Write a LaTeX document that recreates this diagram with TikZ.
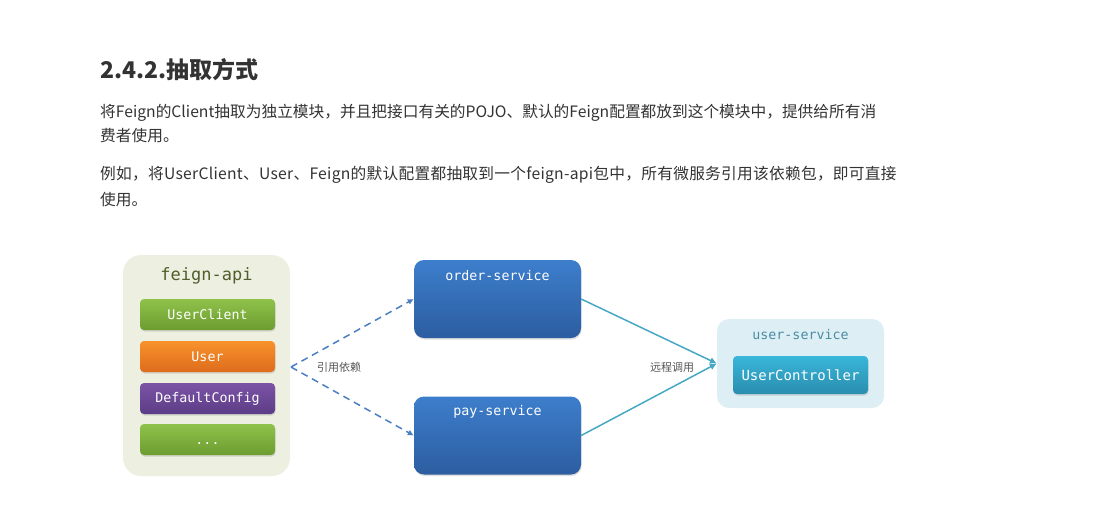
\documentclass[tikz,border=0pt]{standalone}
\usepackage{fontspec}
\newfontfamily\cjk{Noto Sans CJK SC}
\newfontfamily\cjkwide[LetterSpace=1.7]{Noto Sans CJK SC}
\newfontfamily\mono{DejaVu Sans Mono}
\usetikzlibrary{arrows.meta,shadows}
\definecolor{txt}{HTML}{333333}
\definecolor{lbl}{HTML}{555555}
\definecolor{feignbg}{HTML}{EDF0E0}
\definecolor{feigntxt}{HTML}{4F5E2C}
\definecolor{gtop}{HTML}{8FC24A}
\definecolor{gbot}{HTML}{6C9C30}
\definecolor{otop}{HTML}{F8922C}
\definecolor{obot}{HTML}{DE6C1C}
\definecolor{ptop}{HTML}{7C54A6}
\definecolor{pbot}{HTML}{5C3C86}
\definecolor{btop}{HTML}{3D7ECC}
\definecolor{bbot}{HTML}{2C5DA0}
\definecolor{usbg}{HTML}{DDEEF4}
\definecolor{ustxt}{HTML}{4A8CA2}
\definecolor{ctop}{HTML}{38B6DA}
\definecolor{cbot}{HTML}{2A8DAE}
\definecolor{dashc}{HTML}{4A7FC2}
\definecolor{solidc}{HTML}{46A8C4}
\tikzset{
  para/.style={anchor=base west, inner sep=0, text=txt, font=\cjk\fontsize{15.7}{18}\selectfont},
  item/.style={rounded corners=4pt, minimum width=135pt, minimum height=31pt, inner sep=0,
    text=white, font=\mono\fontsize{13.3}{16}\selectfont,
    drop shadow={shadow xshift=0.6pt, shadow yshift=-1.5pt, opacity=0.25}},
  svc/.style={rounded corners=10pt, minimum width=167pt, minimum height=78pt, inner sep=0,
    top color=btop, bottom color=bbot,
    drop shadow={shadow xshift=0.6pt, shadow yshift=-1.5pt, opacity=0.25}},
  svctxt/.style={inner sep=0, text=white, font=\mono\fontsize{13.3}{16}\selectfont},
  small/.style={inner sep=0, text=lbl, font=\cjk\fontsize{11}{13}\selectfont},
  dep/.style={draw=dashc, line width=1.5pt, dash pattern=on 7pt off 5pt, -{Latex[length=6pt,width=6pt]}},
  call/.style={draw=solidc, line width=1.5pt, -{Latex[length=7pt,width=7pt]}},
}
\begin{document}
\begin{tikzpicture}[x=1pt,y=-1pt]
\useasboundingbox (0,0) rectangle (1095,504);
% text
\node[para, font=\cjk\bfseries\fontsize{23}{26}\selectfont] (title) at (100,78) {2.4.2.抽取方式};
\node[para] (p1a) at (100,117) {将Feign的Client抽取为独立模块，并且把接口有关的POJO、默认的Feign配置都放到这个模块中，提供给所有消};
\node[para] (p1b) at (100,141) {费者使用。};
\node[para, font=\cjkwide\fontsize{15.7}{18}\selectfont] (p2a) at (100,179) {例如，将UserClient、User、Feign的默认配置都抽取到一个feign-api包中，所有微服务引用该依赖包，即可直接};
\node[para] (p2b) at (100,205) {使用。};
% feign-api
\node[fill=feignbg, rounded corners=18pt, minimum width=167pt, minimum height=221pt, inner sep=0] (feign) at (206.5,365.5) {};
\node[inner sep=0, text=feigntxt, font=\mono\fontsize{17}{20}\selectfont] (feignt) at (206.5,276) {feign-api};
\node[item, top color=gtop, bottom color=gbot] (uc) at (207.5,314.5) {UserClient};
\node[item, top color=otop, bottom color=obot] (user) at (207.5,356.5) {User};
\node[item, top color=ptop, bottom color=pbot] (dc) at (207.5,398.5) {DefaultConfig};
\node[item, top color=gtop, bottom color=gbot] (more) at (207.5,439.5) {};
\node[inner sep=0, anchor=base, text=white, font=\mono\fontsize{13.3}{16}\selectfont] (moret) at (207.5,444) {...};
% services
\node[svc] (order) at (497.5,299) {};
\node[svctxt] (ordert) at (497.5,276) {order-service};
\node[svc] (pay) at (497.5,435.5) {};
\node[svctxt] (payt) at (497.5,412) {pay-service};
% user-service
\node[fill=usbg, rounded corners=12pt, minimum width=167pt, minimum height=89pt, inner sep=0] (us) at (800.5,363.5) {};
\node[inner sep=0, text=ustxt, font=\mono\fontsize{13.3}{16}\selectfont] (ust) at (800.5,335) {user-service};
\node[item, minimum height=38pt, top color=ctop, bottom color=cbot, font=\mono\fontsize{14}{16}\selectfont] (ctrl) at (800.5,375) {UserController};
% connectors
\coordinate (split) at (291,367);
\draw[dep] (split) -- (order.west);
\draw[dep] (split) -- (pay.west);
\node[small] (deplbl) at (339,367) {引用依赖};
\draw[call] (order.east) -- (us.west);
\draw[call] (pay.east) -- (us.west);
\node[small] (calllbl) at (672,367) {远程调用};
\end{tikzpicture}
\end{document}
